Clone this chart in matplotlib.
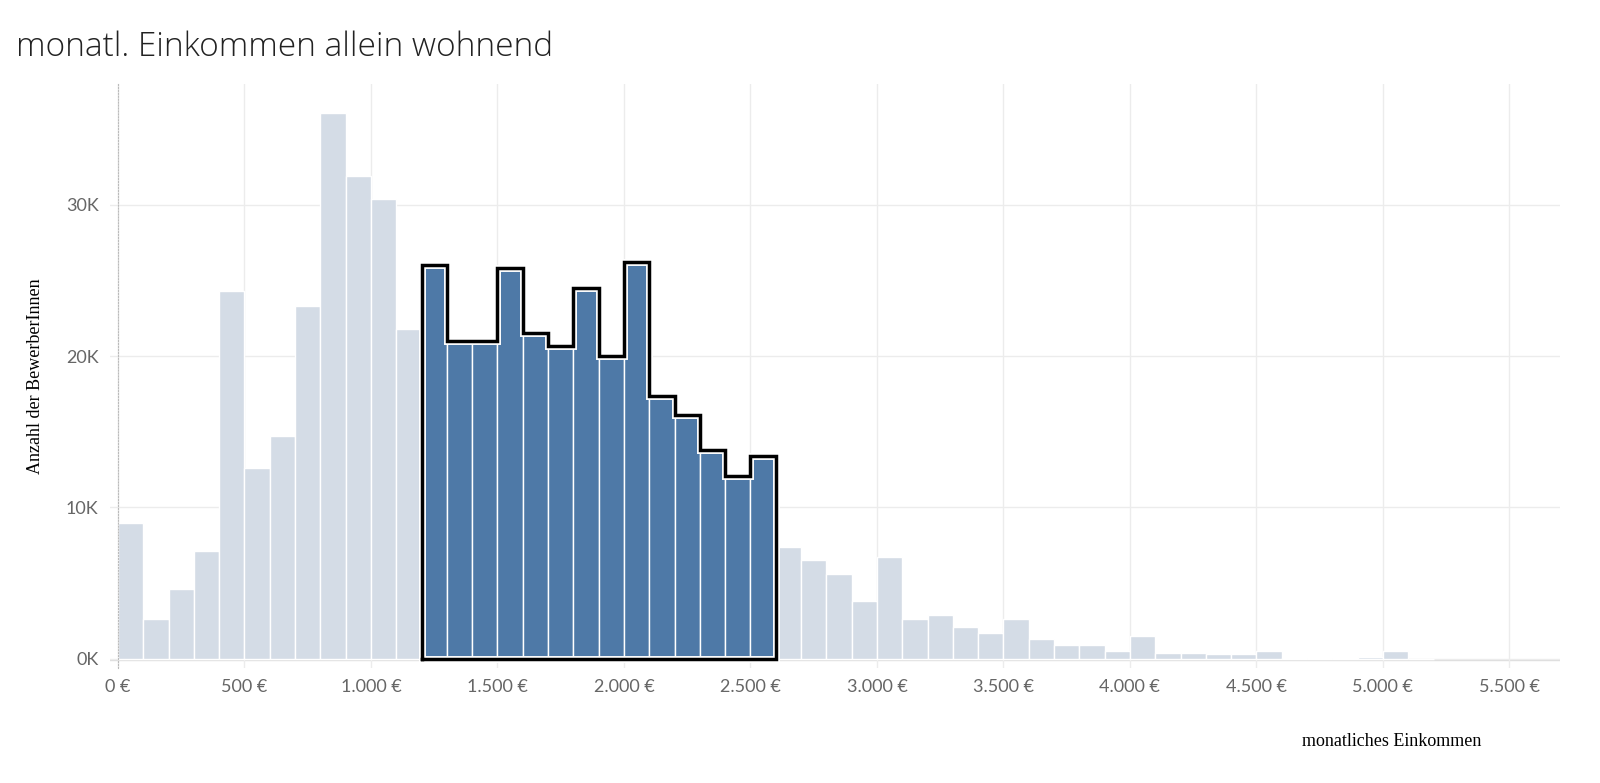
import matplotlib
matplotlib.use("Agg")
import matplotlib.pyplot as plt
import numpy as np

bin_starts = list(range(0, 5200, 100))
counts_k = [9.0, 2.6, 4.6, 7.1, 24.3, 12.6, 14.7, 23.3, 36.1, 31.9, 30.4, 21.8,
            26.0, 21.0, 21.0, 25.8, 21.5, 20.7, 24.5, 20.0, 26.2, 17.4, 16.1, 13.8, 12.1, 13.4,
            7.4, 6.5, 5.6, 3.8, 6.7, 2.6, 2.9, 2.1, 1.7, 2.6, 1.3, 0.9, 0.9, 0.5, 1.5,
            0.4, 0.4, 0.3, 0.3, 0.5, 0.05, 0.05, 0.05, 0.15, 0.5, 0.0]
highlight_range = (1200, 2600)
xticks = list(range(0, 6000, 500))
yticks = [0, 10, 20, 30]

fig = plt.figure(figsize=(16, 7.83), dpi=100)
ax = fig.add_axes([0.069, 0.147, 0.906, 0.746])
x = np.array(bin_starts, dtype=float)
y = np.array(counts_k)
hl = (x >= highlight_range[0]) & (x < highlight_range[1])
ax.bar(x[~hl], y[~hl], width=100, align="edge", color="#d4dce6", edgecolor="white", linewidth=1, zorder=2)
ax.bar(x[hl], y[hl], width=100, align="edge", color="#4e79a7", edgecolor="white", linewidth=1, zorder=2)

# outline around highlighted bins
hx, hy = x[hl], y[hl]
px = [hx[0], hx[0]]
py = [0, hy[0]]
for xi, yi in zip(hx, hy):
    px += [xi, xi + 100]
    py += [yi, yi]
px += [hx[-1] + 100, hx[0]]
py += [0, 0]
ax.plot(px, py, color="white", lw=5, zorder=3, solid_joinstyle="miter")
ax.plot(px, py, color="black", lw=2.5, zorder=4, solid_joinstyle="miter")

ax.set_xlim(-30, 5700)
ax.set_ylim(-0.6, 38)
ax.set_xticks(xticks)
ax.set_xticklabels([f"{v:,}".replace(",", ".") + " €" for v in xticks])
ax.set_yticks(yticks)
ax.set_yticklabels([f"{v}K" for v in yticks])
ax.grid(True, color="#ececec", lw=1, zorder=0)
for s in ["top", "right", "bottom"]:
    ax.spines[s].set_visible(False)
ax.spines["left"].set_position(("data", 0))
ax.spines["left"].set_linestyle(":")
ax.spines["left"].set_color("#bbbbbb")
ax.axhline(-0.1, color="#dddddd", lw=1, zorder=1)
ax.tick_params(length=0, labelsize=13, labelcolor="#666666", pad=8)
for lab in ax.get_xticklabels() + ax.get_yticklabels():
    lab.set_fontfamily("Lato")
ax.tick_params(axis="y", pad=14)

fig.text(0.01, 0.94, "monatl. Einkommen allein wohnend", fontsize=24, fontfamily="Open Sans",
         fontweight="light", color="#222222", va="center")
fig.text(0.022, 0.52, "Anzahl der BewerberInnen", rotation=90, fontsize=13,
         fontfamily="Liberation Serif", va="center", ha="center")
fig.text(0.87, 0.053, "monatliches Einkommen", fontsize=13, fontfamily="Liberation Serif",
         ha="center", va="center")
fig.savefig("out.png", dpi=100)
